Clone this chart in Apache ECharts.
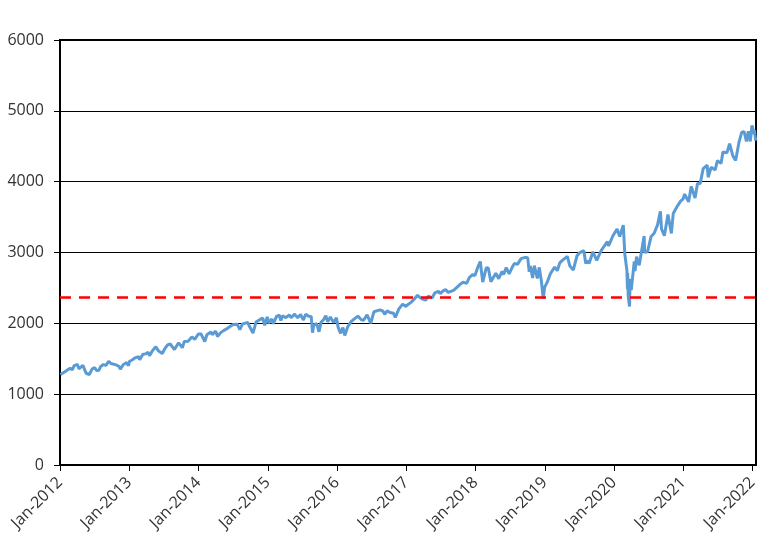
<!DOCTYPE html>
<html>
<head>
<meta charset="utf-8">
<script src="https://cdn.jsdelivr.net/npm/echarts@6/dist/echarts.min.js"></script>
<style>html,body{margin:0;padding:0;background:#fff}#c{width:782px;height:558px}</style>
</head>
<body>
<div id="c"></div>
<script>
const dates = [
"2012-01-03","2012-01-13","2012-01-27","2012-02-10","2012-02-24","2012-03-06","2012-03-16","2012-03-26","2012-04-02","2012-04-10","2012-04-20","2012-05-01","2012-05-18","2012-05-25","2012-06-04","2012-06-19","2012-06-28","2012-07-03","2012-07-12","2012-07-25","2012-08-03","2012-08-17","2012-08-31","2012-09-14","2012-09-26","2012-10-05","2012-10-23","2012-11-07","2012-11-15","2012-11-30","2012-12-18","2012-12-28",
"2013-01-02","2013-01-18","2013-02-01","2013-02-19","2013-02-25","2013-03-14","2013-03-28","2013-04-11","2013-04-18","2013-05-03","2013-05-21","2013-06-05","2013-06-24","2013-07-05","2013-07-22","2013-08-05","2013-08-27","2013-09-18","2013-10-08","2013-10-18","2013-11-07","2013-11-27","2013-12-12","2013-12-31",
"2014-01-15","2014-02-03","2014-02-14","2014-03-07","2014-03-14","2014-04-02","2014-04-11","2014-04-28","2014-05-13","2014-05-30","2014-06-20","2014-07-03","2014-07-24","2014-08-07","2014-08-21","2014-09-18","2014-09-25","2014-10-15","2014-10-31","2014-11-20","2014-12-05","2014-12-16","2014-12-29",
"2015-01-06","2015-01-22","2015-01-30","2015-02-17","2015-03-02","2015-03-11","2015-03-20","2015-04-06","2015-04-24","2015-05-06","2015-05-21","2015-06-08","2015-06-23","2015-07-08","2015-07-20","2015-08-05","2015-08-18","2015-08-25","2015-08-31","2015-09-16","2015-09-28","2015-10-09","2015-10-22","2015-11-03","2015-11-13","2015-11-27","2015-12-14","2015-12-29",
"2016-01-07","2016-01-20","2016-02-01","2016-02-11","2016-02-26","2016-03-14","2016-03-31","2016-04-20","2016-05-06","2016-05-19","2016-06-08","2016-06-27","2016-07-14","2016-08-15","2016-08-31","2016-09-09","2016-09-22","2016-10-07","2016-10-25","2016-11-04","2016-11-23","2016-12-13","2016-12-30",
"2017-01-12","2017-01-26","2017-02-15","2017-03-01","2017-03-14","2017-03-27","2017-04-13","2017-04-28","2017-05-17","2017-06-01","2017-06-19","2017-06-29","2017-07-14","2017-07-27","2017-08-10","2017-08-18","2017-09-07","2017-09-22","2017-10-13","2017-10-27","2017-11-15","2017-11-30","2017-12-18","2017-12-29",
"2018-01-12","2018-01-26","2018-02-08","2018-02-26","2018-03-09","2018-03-23","2018-04-02","2018-04-18","2018-05-03","2018-05-21","2018-05-29","2018-06-12","2018-06-27","2018-07-17","2018-07-25","2018-08-10","2018-08-29","2018-09-20","2018-10-03","2018-10-11","2018-10-17","2018-10-29","2018-11-07","2018-11-23","2018-12-03","2018-12-14","2018-12-24","2018-12-31",
"2019-01-14","2019-01-31","2019-02-22","2019-03-08","2019-03-21","2019-04-05","2019-04-30","2019-05-13","2019-05-31","2019-06-20","2019-07-03","2019-07-26","2019-08-05","2019-08-12","2019-08-23","2019-09-12","2019-10-02","2019-10-18","2019-10-28","2019-11-27","2019-12-03","2019-12-27",
"2020-01-17","2020-01-31","2020-02-19","2020-02-27","2020-03-03","2020-03-09","2020-03-12","2020-03-13","2020-03-16","2020-03-23","2020-03-26","2020-04-01","2020-04-17","2020-04-21","2020-04-29","2020-05-13","2020-06-08","2020-06-11","2020-06-26","2020-07-15","2020-07-31","2020-08-18","2020-09-02","2020-09-08","2020-09-23","2020-10-12","2020-10-30","2020-11-09","2020-11-27","2020-12-17","2020-12-31",
"2021-01-08","2021-01-29","2021-02-12","2021-03-04","2021-03-17","2021-03-31","2021-04-16","2021-05-07","2021-05-12","2021-05-28","2021-06-18","2021-06-30","2021-07-19","2021-07-29","2021-08-19","2021-09-02","2021-09-20","2021-10-04","2021-10-21","2021-11-05","2021-11-18","2021-11-30","2021-12-10","2021-12-20","2021-12-29",
"2022-01-03","2022-01-10","2022-01-12","2022-01-14","2022-01-18"
];
const values = [
1277,1289,1316,1343,1366,1344,1404,1417,1419,1358,1379,1406,1295,1318,1278,1357,1329,1374,1335,1338,1391,1418,1406,1465,1433,1460,1413,1394,1353,1416,1446,1402,
1462,1486,1513,1530,1488,1563,1569,1593,1541,1614,1669,1608,1573,1631,1695,1708,1630,1725,1656,1745,1748,1808,1775,1848,
1848,1742,1838,1878,1841,1890,1815,1869,1897,1924,1963,1985,1988,1910,1992,2011,1965,1862,2018,2052,2075,1973,2090,
2003,2063,1995,2100,2117,2040,2108,2080,2117,2080,2131,2080,2124,2046,2128,2100,2097,1868,1972,1996,1881,2014,2052,2109,2023,2090,2012,2078,
1943,1859,1940,1829,1948,2019,2060,2102,2057,2040,2119,2001,2163,2190,2171,2128,2177,2153,2143,2085,2204,2271,2239,
2270,2296,2350,2396,2365,2342,2329,2384,2357,2431,2453,2419,2459,2475,2438,2425,2465,2502,2553,2581,2564,2648,2690,2674,
2786,2873,2581,2780,2786,2588,2582,2708,2630,2733,2690,2786,2699,2810,2846,2833,2914,2931,2925,2728,2809,2641,2814,2633,2790,2600,2351,2507,
2582,2704,2793,2743,2854,2893,2946,2812,2752,2954,2996,3026,2844,2883,2847,3010,2887,2986,3039,3154,3093,3240,
3330,3226,3386,2979,3003,2747,2481,2711,2386,2237,2630,2470,2875,2737,2940,2820,3232,3002,3009,3227,3271,3390,3580,3332,3237,3535,3270,3550,3638,3722,3756,
3825,3714,3934,3768,3974,3973,4185,4233,4063,4204,4166,4298,4258,4419,4406,4537,4358,4300,4550,4697,4705,4567,4712,4568,4793,
4797,4670,4726,4663,4577
];
const yearTicks = [2012,2013,2014,2015,2016,2017,2018,2019,2020,2021,2022];
const refLevel = 2370;

function toYear(s){
  const p = s.split('-').map(Number);
  const start = Date.UTC(p[0],0,1), end = Date.UTC(p[0]+1,0,1);
  return p[0] + (Date.UTC(p[0],p[1]-1,p[2]) - start)/(end-start);
}
const seriesData = dates.map((d,i)=>[toYear(d), values[i]]);

const FONT = '"Open Sans", "Noto Sans", sans-serif';
const chart = echarts.init(document.getElementById('c'), null, {renderer:'canvas'});
chart.setOption({
  animation:false,
  backgroundColor:'#fff',
  grid:{left:60,right:26,top:40,bottom:93,show:true,borderColor:'#000',borderWidth:2,backgroundColor:'transparent'},
  xAxis:{
    type:'value',min:2012,max:2022.05,interval:1,
    axisLine:{show:true,lineStyle:{color:'#000',width:2}},
    axisTick:{show:true,length:6,lineStyle:{color:'#000',width:1},customValues:yearTicks},
    axisLabel:{rotate:45,fontSize:16,color:'#333',fontFamily:FONT,margin:15,customValues:yearTicks,
      formatter:v=>'Jan-'+Math.round(v)},
    splitLine:{show:false}
  },
  yAxis:{
    type:'value',min:0,max:6000,interval:1000,
    axisLine:{show:true,lineStyle:{color:'#000',width:2}},
    axisTick:{show:true,length:6,lineStyle:{color:'#000',width:1}},
    axisLabel:{fontSize:16,color:'#333',fontFamily:FONT,margin:16,formatter:v=>String(v)},
    splitLine:{show:true,lineStyle:{color:'#000',width:1}}
  },
  series:[{
    type:'line',data:seriesData,showSymbol:false,symbol:'none',
    lineStyle:{color:'#5B9BD5',width:3},
    markLine:{silent:true,symbol:['none','none'],label:{show:false},
      lineStyle:{color:'#FF0000',width:2.5,type:[11,8]},
      data:[{yAxis:refLevel}]}
  }]
});
</script>
</body>
</html>
